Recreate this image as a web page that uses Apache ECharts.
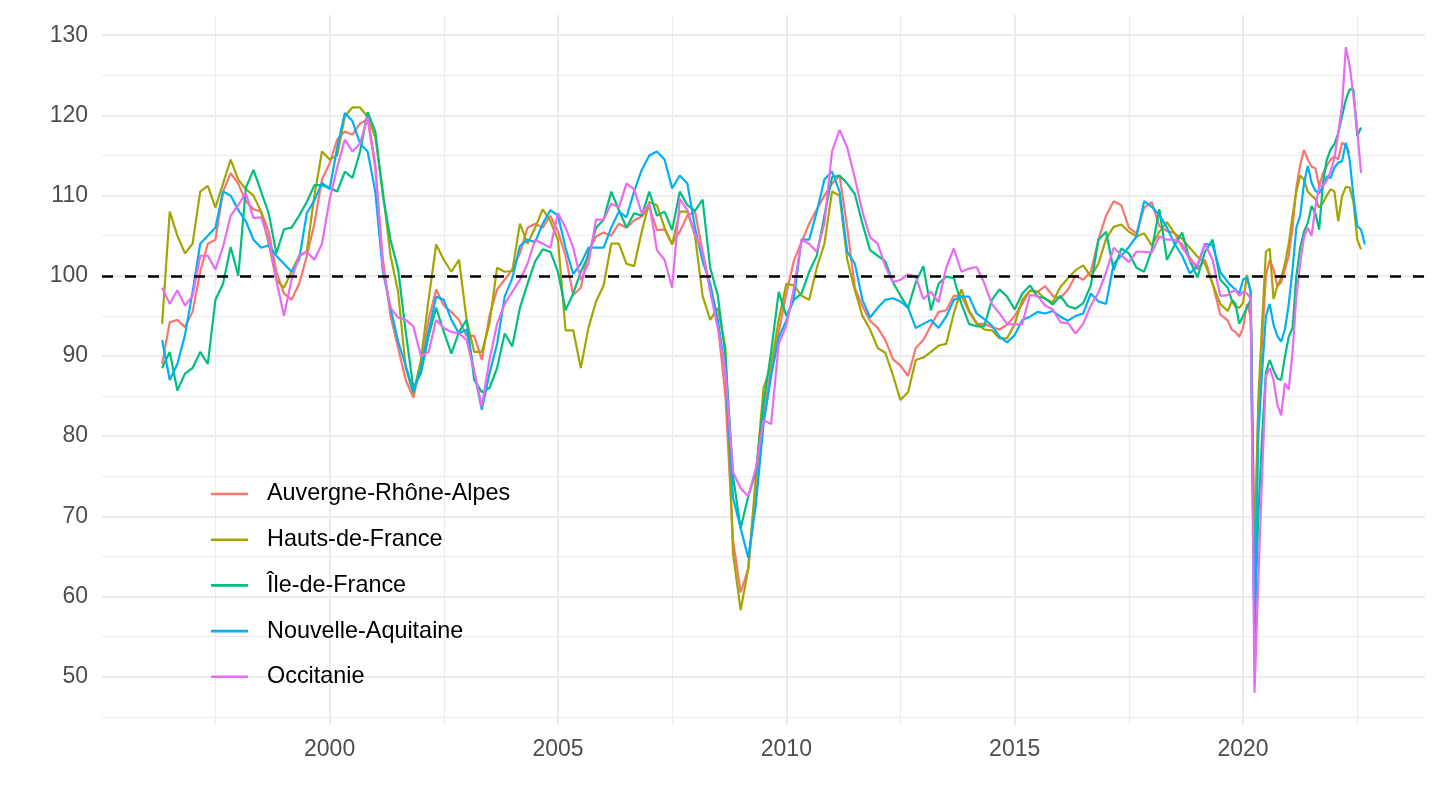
<!DOCTYPE html>
<html>
<head>
<meta charset="utf-8">
<script src="https://cdn.jsdelivr.net/npm/echarts/dist/echarts.min.js"></script>
<style>
html,body{margin:0;padding:0;background:#ffffff;}
#chart{width:1440px;height:810px;}
</style>
</head>
<body>
<div id="chart"></div>
<script>
// ---------------- DATA ----------------
const regions = ['Auvergne-Rhône-Alpes', 'Hauts-de-France', 'Île-de-France', 'Nouvelle-Aquitaine', 'Occitanie'];

// Period layout: every 2 months from 1996-05 to 2019-09, then monthly from 2019-10 to 2022-09
const bimonthlyStart = [1996, 5];
const bimonthlyCount = 141;
const monthlyStart = [2019, 10];
const monthlyCount = 36;

const xMajorTicks = [2000, 2005, 2010, 2015, 2020];
const xMinorTicks = [1997.5, 2002.5, 2007.5, 2012.5, 2017.5, 2022.5];
const yMajorTicks = [50, 60, 70, 80, 90, 100, 110, 120, 130];
const yMinorTicks = [45, 55, 65, 75, 85, 95, 105, 115, 125];
const referenceLevel = 100;

const auvergneBimonthly = [
  89, 94.2, 94.5, 93.6, 95.5, 100.5, 104, 104.5, 110.5, 112.8, 111.5, 109.3, 108.3, 108, 105.5, 100.5, 97.8, 97, 99, 102.4, 106.5, 112, 114, 117, 118, 117.6, 119, 119.5, 113.5,
  102, 95, 91, 87, 84.8, 89, 94.5, 98.3, 96.3, 95.5, 94.5, 92.5, 92.5, 89.5, 95, 98.3, 99.5, 100.8, 102.8, 106, 106.5, 106, 107.5,
  105.5, 102.5, 97.6, 98.5, 103, 104.9, 105.4, 105, 106.5, 106, 106.9, 107.4, 108.6, 105.7, 105.8, 104, 105.5, 107.5, 108, 103, 98.5, 94, 85,
  67, 60.5, 63.5, 73, 82.5, 88.5, 93, 97.8, 101.9, 104.2, 106.5, 108.3, 110, 111.5, 112.5, 106, 98.5, 96.2, 94.4, 93.5, 92, 89.6, 88.8, 87.5,
  91, 92, 93.8, 95.5, 95.7, 97.5, 97.5, 95.5, 94, 94, 93.6, 93.3, 93.9, 95, 96.5, 98.2, 98, 98.7, 97.5, 97.2, 98.3, 100, 99.5, 100.5, 104.5, 107.5, 109.3, 108.8, 106, 105.3, 108.5, 109.2, 106.2,
  105.6, 105.3, 103.5, 102.3, 100.8, 102, 99, 95.2, 94.4
];
const auvergneMonthly = [
  93.3, 93, 92.4,
  93.5, 96.5, 95, 64, 83, 92, 100, 102, 100.8, 98.7, 99.2, 100.8,
  102.5, 106, 111, 113.8, 115.7, 114.5, 113.6, 113.4, 111.2, 112.8, 113.7, 114.5,
  114.9, 114.5, 116.6, 116.2, 115.3, null, null, null, null
];

const hautsBimonthly = [
  94, 108, 105, 102.8, 104, 110.5, 111.2, 108.5, 111.5, 114.5, 112, 110.8, 110, 108, 104, 99.5, 98.5, 100.5, 102.5, 103, 110, 115.5, 114.5, 115, 119.9, 121, 121, 119.8, 117.3,
  110.5, 102.5, 98, 88.5, 85.3, 89.5, 97, 103.9, 102, 100.5, 102, 94.5, 90.5, 90.5, 94, 101, 100.5, 100.6, 106.5, 104, 106, 108.3, 106.8,
  104.5, 93.2, 93.2, 88.5, 93.5, 96.8, 98.8, 104, 104, 101.5, 101.2, 105.5, 109.2, 108.8, 106, 103.9, 108, 108, 105, 97.5, 94.5, 96, 91,
  65.3, 58.3, 63.5, 75, 86, 88.8, 94.5, 99, 98.8, 97.5, 97, 101, 104, 110.5, 110, 102, 98.2, 95, 93.3, 91, 90.4, 87.6, 84.5, 85.5,
  89.5, 89.8, 90.5, 91.3, 91.5, 95.3, 98.3, 95.7, 94.1, 93.3, 93.2, 92.2, 92.2, 94, 97, 98.1, 98, 97.1, 96.7, 98.6, 99.7, 100.7, 101.3, 99.9, 101.5, 104.6, 106.1, 106.4, 105.5, 104.9, 105.3, 103.8, 105.5,
  106.7, 105.3, 104.6, 103.5, 102.4, 101.5, 99, 96.5, 95.6
];
const hautsMonthly = [
  96.8, 96.2, 96,
  96.6, 100.1, 98, 65.5, 84.5, 94, 103, 103.4, 97.1, 98.7, 99.7, 101.5,
  104, 107.5, 110.5, 112.5, 112, 110.5, 110, 109.6, 108.5, 109.1, 110, 110.8,
  110.5, 106.8, 109.9, 111.1, 111, 109.2, 104.5, 103.3, null
];

const ileBimonthly = [
  88.5, 90.5, 85.7, 87.8, 88.5, 90.5, 89, 97, 99, 103.6, 100, 111, 113.2, 110.5, 107.8, 102.8, 105.8, 106, 107.5, 109.2, 111.3, 111.3, 111, 110.5, 113, 112.2, 115.5, 120.4, 118,
  110, 104.5, 100.8, 93, 86, 87.8, 92.5, 96, 93, 90.3, 93, 94.5, 87, 85.5, 86, 88.5, 92.8, 91.2, 96, 99, 101.8, 103.3, 103,
  100.5, 95.7, 97.8, 100.5, 102.5, 106, 107, 110.5, 108.2, 106, 107.8, 107.5, 110.5, 107.5, 108, 105.7, 110.5, 108.8, 108.1, 109.5, 101, 97.5, 90,
  75, 68.5, 72.5, 75.5, 84, 90.5, 98, 95, 97, 97.8, 100.5, 102.5, 107.5, 112.3, 112.5, 111.5, 110.2, 106.5, 103.2, 102.5, 101.8, 99.2, 97.5, 96,
  99.2, 101.2, 95.7, 99, 99.9, 99.7, 96.5, 94, 93.7, 93.7, 97, 98.3, 97.4, 95.8, 97.8, 98.8, 97.4, 97.2, 96.4, 97.5, 96.2, 95.9, 96.6, 98.8, 104.5, 105.5, 100.7, 103.4, 102.8, 101, 100.5, 103.2, 108.3,
  102, 103.8, 105.4, 101.9, 99.8, 103, 104.5, 99.5, 98.5
];
const ileMonthly = [
  97, 96.5, 94,
  95, 96, 97, 55.5, 70, 80, 88, 89.5, 88.2, 87.2, 87, 89.9,
  92.4, 93.5, 100, 103.5, 105.5, 106.6, 108.7, 107.8, 105.75, 111.6, 114.5, 115.75,
  116.4, 117.8, 119.9, 122, 123.25, 123.25, 117.4, 118.5, null
];

const aquitaineBimonthly = [
  92, 87, 89, 92.6, 98, 104, 105, 106, 110.5, 110, 108.2, 106.8, 104.5, 103.5, 103.8, 102.5, 101.5, 100.5, 102, 107.8, 109.4, 111.6, 110.8, 116, 120.3, 119.3, 116.5, 115.5, 110.5,
  100.5, 96, 91.8, 88.8, 85.5, 88.5, 93, 97.4, 97, 94.5, 92.8, 93.3, 88, 83.3, 87.8, 91.5, 97.4, 99.7, 103.7, 104.5, 104.2, 106.5, 108.2,
  107.5, 103.5, 100.2, 101.5, 103.5, 103.5, 103.5, 106, 108, 107.3, 110.5, 113.2, 115, 115.5, 114.5, 110.9, 112.5, 111.5, 106, 101.8, 99, 94.5, 88,
  72.3, 68.5, 64.8, 71.5, 81.5, 87.5, 92.3, 94.4, 97.3, 104.5, 104.5, 108, 112, 113, 110.5, 103, 101.5, 97, 94.8, 96, 97, 97.2, 96.8, 96,
  93.5, 94, 94.5, 93.5, 94.9, 97, 97.4, 97.4, 95.3, 94.6, 93.8, 92.4, 91.7, 92.6, 94.5, 94.9, 95.5, 95.3, 95.6, 94.9, 94.4, 95, 95.3, 97.8, 96.8, 96.5, 101.5, 102.5, 103.6, 104.9, 109.3, 108.6, 107.6,
  106, 104, 102.5, 100.3, 101.2, 104, 103.8, 100.5, 99.2
];
const aquitaineMonthly = [
  98.7, 98.3, 97.8,
  99.5, 99.8, 98, 53.5, 80, 88, 95, 96.5, 93.9, 92.5, 91.8, 93.3,
  96.5, 100.8, 106, 107.5, 111.5, 113.7, 111.6, 110.6, 110.3, 111.2, 112.4, 112.2,
  113.5, 114.1, 114.3, 116.6, 114.5, 109.9, 106.2, 105.75, 103.9
];

const occitanieBimonthly = [
  98.5, 96.5, 98.2, 96.3, 97.5, 102.5, 102.5, 100.8, 103.6, 107.5, 108.8, 110.3, 107.2, 107.3, 104.5, 99.5, 95, 99.5, 102.5, 103, 102, 104, 109.5, 113.5, 117, 115.5, 116.5, 119.8, 114,
  101, 96, 94.8, 94.5, 93.7, 90, 90.5, 94.5, 93.5, 93, 92.8, 92, 88, 83.7, 89.5, 94, 96.5, 98, 99.5, 101.5, 104.5, 104, 103.5,
  107.8, 106, 103.5, 99.5, 101.5, 107, 107, 109, 108.5, 111.5, 110.8, 107.8, 109, 103.2, 102, 98.5, 109.6, 108.2, 105.2, 103, 98, 93.5, 88,
  75.5, 73.5, 72.5, 76, 82, 81.5, 91.5, 93.8, 98.5, 104.5, 104, 103, 106.5, 115.5, 118.2, 116, 112.2, 108, 104.8, 104, 101.2, 99.2, 99.5, 100.2,
  99.9, 97.1, 98, 96.7, 101, 103.4, 100.5, 100.9, 101.1, 99.1, 96.5, 95.3, 94, 93.9, 94, 97.6, 97.5, 96.3, 95.8, 94.2, 94.1, 92.8, 94, 96.3, 97.9, 100.4, 103.5, 102.6, 101.7, 103, 103, 102.9, 104.9,
  104.5, 104.5, 104, 101.9, 101.3, 104, 102, 97.5, 97.6
];
const occitanieMonthly = [
  98, 98.2, 97.5,
  98, 97.8, 97.2, 48, 62, 75, 87.5, 88.5, 87, 84, 82.6, 86.6,
  85.8, 90.5, 97.5, 101.5, 104.8, 106, 105, 108.5, 111.2, 111.2, 111.9, 113,
  114.7, 117.8, 121.2, 128.5, 126.2, 122.4, 118.25, 112.8, null
];

// ---------------- BUILD ----------------
const seriesValues = [
  auvergneBimonthly.concat(auvergneMonthly),
  hautsBimonthly.concat(hautsMonthly),
  ileBimonthly.concat(ileMonthly),
  aquitaineBimonthly.concat(aquitaineMonthly),
  occitanieBimonthly.concat(occitanieMonthly)
];

function monthIndex(y, m) { return y * 12 + (m - 1); }
const periods = [];
for (let i = 0; i < bimonthlyCount; i++) periods.push(monthIndex(bimonthlyStart[0], bimonthlyStart[1]) + 2 * i);
for (let j = 0; j < monthlyCount; j++) periods.push(monthIndex(monthlyStart[0], monthlyStart[1]) + j);
const xs = periods.map(mi => mi / 12);

const palette = ['#F8766D', '#A3A500', '#00BF7D', '#00B0F6', '#E76BF3'];
const FONT = '"Liberation Sans", Arial, Helvetica, sans-serif';
const GRID = '#EBEBEB';

// ggplot-like expanded ranges
const allVals = seriesValues.flat().filter(v => v != null);
const yLo = Math.min(...allVals), yHi = Math.max(...allVals);
const yPad = (yHi - yLo) * 0.05;
const xLo = xs[0], xHi = xs[xs.length - 1];
const xPad = (xHi - xLo) * 0.05;

const chart = echarts.init(document.getElementById('chart'), null, { renderer: 'canvas' });

const xCommon = { type: 'value', min: xLo - xPad, max: xHi + xPad, axisLine: { show: false } };
const yCommon = { type: 'value', min: yLo - yPad, max: yHi + yPad, axisLine: { show: false } };

const option = {
  animation: false,
  backgroundColor: '#ffffff',
  grid: { left: 102, right: 15, top: 15, bottom: 85 },
  xAxis: [
    Object.assign({}, xCommon, {
      position: 'bottom',
      axisTick: { show: false, customValues: xMajorTicks },
      axisLabel: { customValues: xMajorTicks, color: '#4D4D4D', fontSize: 23, fontFamily: FONT, margin: 13,
        formatter: v => String(Math.round(v)) },
      splitLine: { show: true, lineStyle: { color: GRID, width: 2 } }
    }),
    Object.assign({}, xCommon, {
      position: 'top',
      axisTick: { show: false, customValues: xMinorTicks },
      axisLabel: { show: false, customValues: xMinorTicks },
      splitLine: { show: true, lineStyle: { color: GRID, width: 1.1 } }
    })
  ],
  yAxis: [
    Object.assign({}, yCommon, {
      position: 'left',
      axisTick: { show: false, customValues: yMajorTicks },
      axisLabel: { customValues: yMajorTicks, color: '#4D4D4D', fontSize: 23, fontFamily: FONT, margin: 14,
        formatter: v => String(Math.round(v)) },
      splitLine: { show: true, lineStyle: { color: GRID, width: 2 } }
    }),
    Object.assign({}, yCommon, {
      position: 'right',
      axisTick: { show: false, customValues: yMinorTicks },
      axisLabel: { show: false, customValues: yMinorTicks },
      splitLine: { show: true, lineStyle: { color: GRID, width: 1.1 } }
    })
  ],
  legend: {
    orient: 'vertical',
    left: 206,
    top: 476,
    icon: 'rect',
    itemWidth: 37,
    itemHeight: 2.6,
    itemGap: 19.7,
    textStyle: { fontSize: 23.4, color: '#000000', fontFamily: FONT, lineHeight: 26, padding: [0, 0, 0, 14] },
    data: regions
  },
  series: regions.map((name, i) => {
    const s = {
      name: name,
      type: 'line',
      xAxisIndex: 0,
      yAxisIndex: 0,
      showSymbol: false,
      symbol: 'none',
      silent: true,
      lineStyle: { width: 2.2, color: palette[i] },
      itemStyle: { color: palette[i] },
      data: xs.map((x, j) => [x, seriesValues[i][j]]).filter(p => p[1] != null)
    };
    if (i === regions.length - 1) {
      s.markLine = {
        silent: true,
        symbol: 'none',
        label: { show: false },
        z: 10,
        lineStyle: { color: '#000000', width: 2.5, type: [11, 12] },
        data: [{ yAxis: referenceLevel }]
      };
    }
    return s;
  })
};

chart.setOption(option);
</script>
</body>
</html>
